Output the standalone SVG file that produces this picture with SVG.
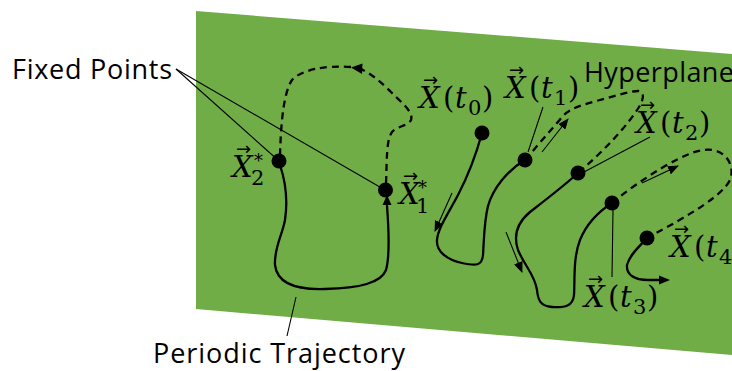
<svg xmlns="http://www.w3.org/2000/svg" width="732" height="371" viewBox="0 0 732 371">
<style>
.lbl{font-family:"Open Sans","Liberation Sans",sans-serif;font-size:27px;fill:#000}
.m{font-family:"DejaVu Serif","Liberation Serif",serif;font-style:italic;font-size:29px;fill:#000}
.u{font-style:normal}
.s{font-style:normal;font-size:21px}
.st{font-style:normal;font-size:18px}
.ar{font-family:"DejaVu Sans",sans-serif;font-style:normal;font-size:18px}
.traj{fill:none;stroke:#000;stroke-width:2.3;stroke-linecap:round;stroke-linejoin:round}
.dash{fill:none;stroke:#000;stroke-width:2.3;stroke-dasharray:7 5}
.thin{fill:none;stroke:#000;stroke-width:1.1}
.dot{fill:#000}
</style>
<defs>
<marker id="ah" markerUnits="userSpaceOnUse" markerWidth="11" markerHeight="9" refX="10" refY="4.5" orient="auto">
<path d="M0,0 L11,4.5 L0,9 Z" fill="#000"/>
</marker>
</defs>
<polygon id="plane" points="196,11 732,54 732,355 196,309" fill="#70AD47"/>
<g id="connectors">
<line class="thin" x1="176" y1="69" x2="279" y2="161"/>
<line class="thin" x1="176" y1="69" x2="385" y2="190"/>
<line class="thin" x1="296" y1="297" x2="287" y2="336"/>
<line class="thin" x1="543" y1="107" x2="528" y2="152"/>
<line class="thin" x1="650" y1="137" x2="584" y2="172"/>
<line class="thin" x1="613" y1="210" x2="612" y2="277"/>
<path class="dash" d="M386,183 C387,162 386,140 392,132 C397,126 408,126 411,120 C414,112 400,101 392,93 C382,83 372,74 361,69"/>
<path class="dash" d="M351,67 C325,65 301,70 292,80 C284,92 281,120 280,155"/>
<polygon points="351,67.5 362.5,63.5 362,74" fill="#000"/>
<path class="traj" d="M280,165 C285,180 288,200 285,220 C282,236 274,248 275,265 C277,283 295,290 325,289 C360,288 381,283 386,270 C390,256 389,232 387,206"/>
<polygon points="387,195 382.5,205 391.5,205" fill="#000"/>
<path class="traj" d="M482,133 C476,155 470,172 458,195 C448,214 438,228 437,240 C436,252 448,260 462,263 C476,266 482,266 483,255 C484,240 484,222 488,206 C493,188 508,170 525,160"/>
<path class="traj" d="M578,173 C565,185 548,198 530,212 C518,222 513,235 518,250 C524,265 535,275 537,290 C538,300 540,306 552,307 C565,308 573,306 574,295 C575,280 573,258 580,240 C586,225 598,212 612,203"/>
<path class="traj" d="M647,238 C640,246 630,254 627,265 C626,275 635,280 648,280 L660,280"/>
<polygon points="670,280 659,275.5 659,284.5" fill="#000"/>
<path class="dash" d="M525,160 L563,116 C570,108 585,104 600,100 C615,96 630,91 638,91 C645,92 644,99 639,107 C628,125 605,150 578,173"/>
<path class="dash" d="M612,203 C625,192 645,178 665,166 C685,155 700,148 712,150 C728,152 735,168 730,180 C722,196 690,215 647,238"/>
<line class="thin" x1="452" y1="193" x2="435" y2="231" marker-end="url(#ah)"/>
<line class="thin" x1="506" y1="232" x2="522" y2="272" marker-end="url(#ah)"/>
<line class="thin" x1="542" y1="152" x2="568" y2="119" marker-end="url(#ah)"/>
<line class="thin" x1="642" y1="183" x2="678" y2="166" marker-end="url(#ah)"/>
</g>
<g id="x2star"><circle class="dot" cx="279" cy="161" r="7.5"/>
<text class="m"><tspan class="ar" x="236" y="155">→</tspan><tspan x="232" y="177">X</tspan><tspan class="s" x="251" y="185">2</tspan><tspan class="st" x="254" y="167">*</tspan></text></g>
<g id="x1star"><circle class="dot" cx="385.5" cy="190" r="7.5"/>
<text class="m"><tspan class="ar" x="403" y="182">→</tspan><tspan x="399" y="204">X</tspan><tspan class="s" x="416" y="213">1</tspan><tspan class="st" x="418" y="194">*</tspan></text></g>
<g id="xt0"><circle class="dot" cx="482" cy="133" r="7.5"/>
<text class="m"><tspan class="ar" x="423" y="86">→</tspan><tspan x="419" y="108">X</tspan><tspan class="u" x="443">(</tspan><tspan x="455">t</tspan><tspan class="s" x="468" y="115">0</tspan><tspan class="u" x="482" y="108">)</tspan></text></g>
<g id="xt1"><circle class="dot" cx="525" cy="160" r="7.5"/>
<text class="m"><tspan class="ar" x="509" y="76">→</tspan><tspan x="505" y="98">X</tspan><tspan class="u" x="529">(</tspan><tspan x="541">t</tspan><tspan class="s" x="554" y="105">1</tspan><tspan class="u" x="568" y="98">)</tspan></text></g>
<g id="xt2"><circle class="dot" cx="578" cy="173" r="7.5"/>
<text class="m"><tspan class="ar" x="640" y="111">→</tspan><tspan x="636" y="133">X</tspan><tspan class="u" x="660">(</tspan><tspan x="672">t</tspan><tspan class="s" x="685" y="140">2</tspan><tspan class="u" x="699" y="133">)</tspan></text></g>
<g id="xt3"><circle class="dot" cx="612" cy="203" r="7.5"/>
<text class="m"><tspan class="ar" x="588" y="285">→</tspan><tspan x="584" y="307">X</tspan><tspan class="u" x="608">(</tspan><tspan x="620">t</tspan><tspan class="s" x="633" y="314">3</tspan><tspan class="u" x="647" y="307">)</tspan></text></g>
<g id="xt4"><circle class="dot" cx="647" cy="238" r="7.5"/>
<text class="m"><tspan class="ar" x="674" y="235">→</tspan><tspan x="670" y="257">X</tspan><tspan class="u" x="694">(</tspan><tspan x="706">t</tspan><tspan class="s" x="719" y="264">4</tspan><tspan class="u" x="733" y="257">)</tspan></text></g>
<g id="fixed"><text class="lbl" x="12" y="79" textLength="160" lengthAdjust="spacing">Fixed Points</text></g>
<g id="hyper"><text class="lbl" x="584" y="82" textLength="150" lengthAdjust="spacing">Hyperplane</text></g>
<g id="periodic"><text class="lbl" x="153" y="363" textLength="252" lengthAdjust="spacing">Periodic Trajectory</text></g>
</svg>
